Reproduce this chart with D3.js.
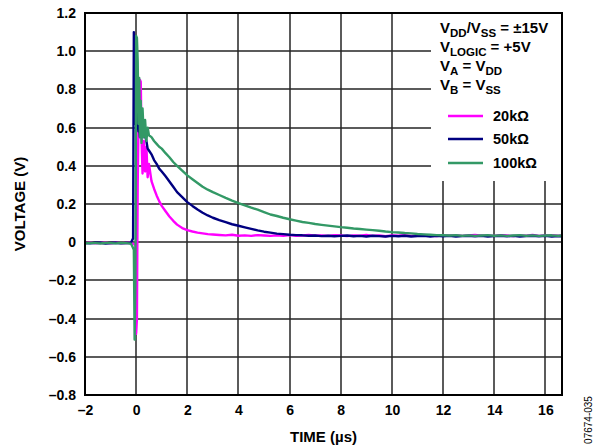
<!DOCTYPE html>
<html lang="en">
<head>
    <meta charset="UTF-8">
    <title>Voltage vs Time</title>
    <script src="https://d3js.org/d3.v7.min.js"></script>
    <style type="text/css">
        body { margin: 0; background: #fff; }
        * { font-family: Arial, "Liberation Sans", sans-serif; }
        .tick text { font-size: 14px; font-weight: bold; fill: #000; }
    </style>
</head>
<body>
<div id="chart"></div>
<script>
// time axis (µs), shared by the three traces
var timeUs = [
    -2.0, -1.8, -1.6, -1.4, -1.2, -1.0, -0.8, -0.6, -0.4, -0.2,
    -0.12, -0.09, -0.06, -0.03, 0.0, 0.03, 0.06, 0.09, 0.12, 0.15, 0.18, 0.21, 0.25, 0.3, 0.35, 0.4, 0.45, 0.5,
    0.6, 0.7, 0.8, 0.9, 1.0, 1.15, 1.3, 1.45, 1.6, 1.8, 2.0, 2.2, 2.4, 2.6, 2.8,
    3, 3.25, 3.5, 3.75, 4, 4.25, 4.5, 4.75, 5, 5.25, 5.5, 5.75, 6, 6.25, 6.5, 6.75,
    7, 7.25, 7.5, 7.75, 8, 8.25, 8.5, 8.75, 9, 9.25, 9.5, 9.75, 10, 10.25, 10.5, 10.75,
    11, 11.25, 11.5, 11.75, 12, 12.25, 12.5, 12.75, 13, 13.25, 13.5, 13.75, 14, 14.25, 14.5, 14.75,
    15, 15.25, 15.5, 15.75, 16, 16.25, 16.5, 16.65
];

// 20kΩ trace (V)
var volts20k = [
    -0.005, -0.002, -0.006, -0.004, -0.003, -0.006, -0.002, -0.005, -0.004, -0.003,
    -0.008, -0.01, -0.012, -0.02, -0.48, -0.40, 0.30, 0.62, 0.80, 0.85, 0.84, 0.55, 0.36, 0.53, 0.37, 0.50, 0.34, 0.41,
    0.32, 0.28, 0.245, 0.215, 0.19, 0.162, 0.135, 0.112, 0.092, 0.074, 0.063, 0.056, 0.05, 0.046, 0.042,
    0.040, 0.038, 0.036, 0.039, 0.034, 0.036, 0.033, 0.037, 0.035, 0.033, 0.036, 0.034, 0.037, 0.033, 0.035, 0.038,
    0.034, 0.036, 0.033, 0.037, 0.035, 0.032, 0.036, 0.034, 0.038, 0.033, 0.035, 0.031, 0.036, 0.034, 0.037, 0.033,
    0.035, 0.038, 0.034, 0.032, 0.036, 0.034, 0.037, 0.033, 0.035, 0.038, 0.034, 0.036, 0.033, 0.037, 0.035, 0.032,
    0.036, 0.034, 0.038, 0.033, 0.035, 0.037, 0.034, 0.035
];

// 50kΩ trace (V)
var volts50k = [
    -0.004, -0.006, -0.003, -0.002, -0.007, -0.004, -0.003, -0.006, -0.004, -0.002,
    0.02, 1.10, 0.62, 0.98, 1.02, 0.70, 0.62, 0.58, 0.60, 0.55, 0.59, 0.56, 0.58, 0.55, 0.56, 0.53, 0.49, 0.48,
    0.46, 0.43, 0.41, 0.385, 0.37, 0.345, 0.318, 0.29, 0.262, 0.236, 0.21, 0.19, 0.171, 0.154, 0.14,
    0.128, 0.116, 0.105, 0.094, 0.086, 0.078, 0.07, 0.062, 0.055, 0.05, 0.045, 0.042, 0.039, 0.037, 0.036, 0.034,
    0.035, 0.032, 0.034, 0.031, 0.033, 0.035, 0.031, 0.033, 0.030, 0.034, 0.032, 0.030, 0.033, 0.031, 0.034, 0.030,
    0.032, 0.033, 0.030, 0.034, 0.031, 0.033, 0.030, 0.032, 0.034, 0.031, 0.033, 0.030, 0.032, 0.034, 0.031, 0.033,
    0.030, 0.032, 0.034, 0.031, 0.033, 0.030, 0.032, 0.031
];

// 100kΩ trace (V)
var volts100k = [
    -0.006, -0.004, -0.005, -0.007, -0.004, -0.005, -0.006, -0.004, -0.005, -0.008,
    -0.03, -0.04, -0.51, -0.2, 1.08, 1.07, 0.95, 0.62, 0.86, 0.55, 0.74, 0.52, 0.70, 0.55, 0.64, 0.53, 0.60, 0.56,
    0.55, 0.53, 0.515, 0.50, 0.49, 0.466, 0.445, 0.42, 0.40, 0.375, 0.35, 0.33, 0.31, 0.29, 0.275,
    0.262, 0.247, 0.232, 0.218, 0.205, 0.193, 0.181, 0.17, 0.158, 0.145, 0.137, 0.128, 0.12, 0.113, 0.106, 0.101,
    0.095, 0.091, 0.087, 0.083, 0.079, 0.076, 0.072, 0.069, 0.066, 0.063, 0.06, 0.056, 0.053, 0.051, 0.048, 0.046,
    0.043, 0.041, 0.039, 0.037, 0.036, 0.035, 0.037, 0.034, 0.036, 0.033, 0.035, 0.037, 0.034, 0.036, 0.033, 0.035,
    0.037, 0.034, 0.036, 0.033, 0.035, 0.036, 0.034, 0.035
];

var seriesNames = ["20kΩ", "50kΩ", "100kΩ"];
var seriesColors = ["#ff00ff", "#000080", "#339966"];

var xTicks = [-2, 0, 2, 4, 6, 8, 10, 12, 14, 16];
var yTicks = [-0.8, -0.6, -0.4, -0.2, 0, 0.2, 0.4, 0.6, 0.8, 1.0, 1.2];

// set the dimensions and margins of the graph
var width = 602, height = 448;
var plot = {left: 85, right: 562, top: 13, bottom: 395};

var svg = d3.select("#chart").append("svg")
    .attr("width", width)
    .attr("height", height);

var x = d3.scaleLinear().domain([-2, 16.65]).range([plot.left, plot.right]);
var y = d3.scaleLinear().domain([-0.8, 1.2]).range([plot.bottom, plot.top]);

function fmt(d) {
    if (d === 0) return "0";
    var s = d3.format(".1f")(Math.abs(d));
    return (d < 0 ? "\u2013" : "") + s;
}

// gridlines as plain rects (1.5px wide), placed by the scales
var grid = svg.append("g").attr("fill", "#262626");
grid.selectAll("rect.vgrid")
    .data(xTicks.slice(1))
    .enter().append("rect")
    .attr("class", "vgrid")
    .attr("x", function(d) { return Math.round(x(d)) - 0.75; })
    .attr("y", plot.top)
    .attr("width", 1.5)
    .attr("height", plot.bottom - plot.top);
grid.selectAll("rect.hgrid")
    .data(yTicks.slice(1, -1))
    .enter().append("rect")
    .attr("class", "hgrid")
    .attr("x", plot.left)
    .attr("y", function(d) { return Math.round(y(d)) - 0.75; })
    .attr("width", plot.right - plot.left)
    .attr("height", 1.5);

// legend box hides the grid in the top right corner
svg.append("rect")
    .attr("x", 431).attr("y", plot.top + 1)
    .attr("width", plot.right - 431).attr("height", 180 - plot.top)
    .attr("fill", "#fff");

// tick labels (the frame is drawn below)
var xAxis = svg.append("g")
    .attr("transform", "translate(0," + plot.bottom + ")")
    .call(d3.axisBottom(x).tickValues(xTicks).tickSize(0).tickPadding(10)
        .tickFormat(function(d) { return d < 0 ? "\u2013" + Math.abs(d) : d; }));
xAxis.select(".domain").remove();

var yAxis = svg.append("g")
    .attr("transform", "translate(" + plot.left + ",0)")
    .call(d3.axisLeft(y).tickValues(yTicks).tickSize(0).tickPadding(9).tickFormat(fmt));
yAxis.select(".domain").remove();

// traces
var traces = [volts20k, volts50k, volts100k];
var line = d3.line()
    .x(function(d, i) { return x(timeUs[i]); })
    .y(function(d) { return y(d); });

svg.append("g").selectAll("path")
    .data(traces)
    .enter().append("path")
    .attr("d", function(d) { return line(d); })
    .attr("fill", "none")
    .attr("stroke", function(d, i) { return seriesColors[i]; })
    .attr("stroke-width", 2.4)
    .attr("stroke-linejoin", "round");

// frame
svg.append("rect")
    .attr("x", plot.left).attr("y", plot.top)
    .attr("width", plot.right - plot.left).attr("height", plot.bottom - plot.top)
    .attr("fill", "none").attr("stroke", "#000").attr("stroke-width", 2);

// conditions text
var cond = svg.append("g").attr("font-size", 15).attr("font-weight", "bold");
function condLine(yy, parts) {
    var t = cond.append("text").attr("x", 440).attr("y", yy);
    parts.forEach(function(p) {
        var ts = t.append("tspan").text(p[0]);
        if (p[1]) ts.attr("font-size", 11.5).attr("dy", 4);
        else if (p[2]) ts.attr("dy", -4);
    });
}
condLine(33, [["V"], ["DD", 1], ["/V", 0, 1], ["SS", 1], [" = ±15V", 0, 1]]);
condLine(52, [["V"], ["LOGIC", 1], [" = +5V", 0, 1]]);
condLine(71, [["V"], ["A", 1], [" = V", 0, 1], ["DD", 1]]);
condLine(90, [["V"], ["B", 1], [" = V", 0, 1], ["SS", 1]]);

// legend
var legendY = [116, 139, 163];
var legend = svg.append("g");
legend.selectAll("line").data(seriesNames).enter().append("line")
    .attr("x1", 448).attr("x2", 483)
    .attr("y1", function(d, i) { return legendY[i]; })
    .attr("y2", function(d, i) { return legendY[i]; })
    .attr("stroke", function(d, i) { return seriesColors[i]; })
    .attr("stroke-width", 2.6);
legend.selectAll("text").data(seriesNames).enter().append("text")
    .attr("x", 493)
    .attr("y", function(d, i) { return legendY[i] + 5; })
    .attr("font-size", 14.5).attr("font-weight", "bold")
    .text(function(d) { return d; });

// axis titles
svg.append("text")
    .attr("transform", "translate(25," + ((plot.top + plot.bottom) / 2) + ") rotate(-90)")
    .attr("text-anchor", "middle")
    .attr("font-size", 15).attr("font-weight", "bold")
    .text("VOLTAGE (V)");
svg.append("text")
    .attr("x", (plot.left + plot.right) / 2).attr("y", 442)
    .attr("text-anchor", "middle")
    .attr("font-size", 15).attr("font-weight", "bold")
    .text("TIME (µs)");

// figure number
svg.append("text")
    .attr("transform", "translate(592,420) rotate(-90)")
    .attr("text-anchor", "middle")
    .attr("font-size", 10)
    .text("07674-035");
</script>
</body>
</html>
